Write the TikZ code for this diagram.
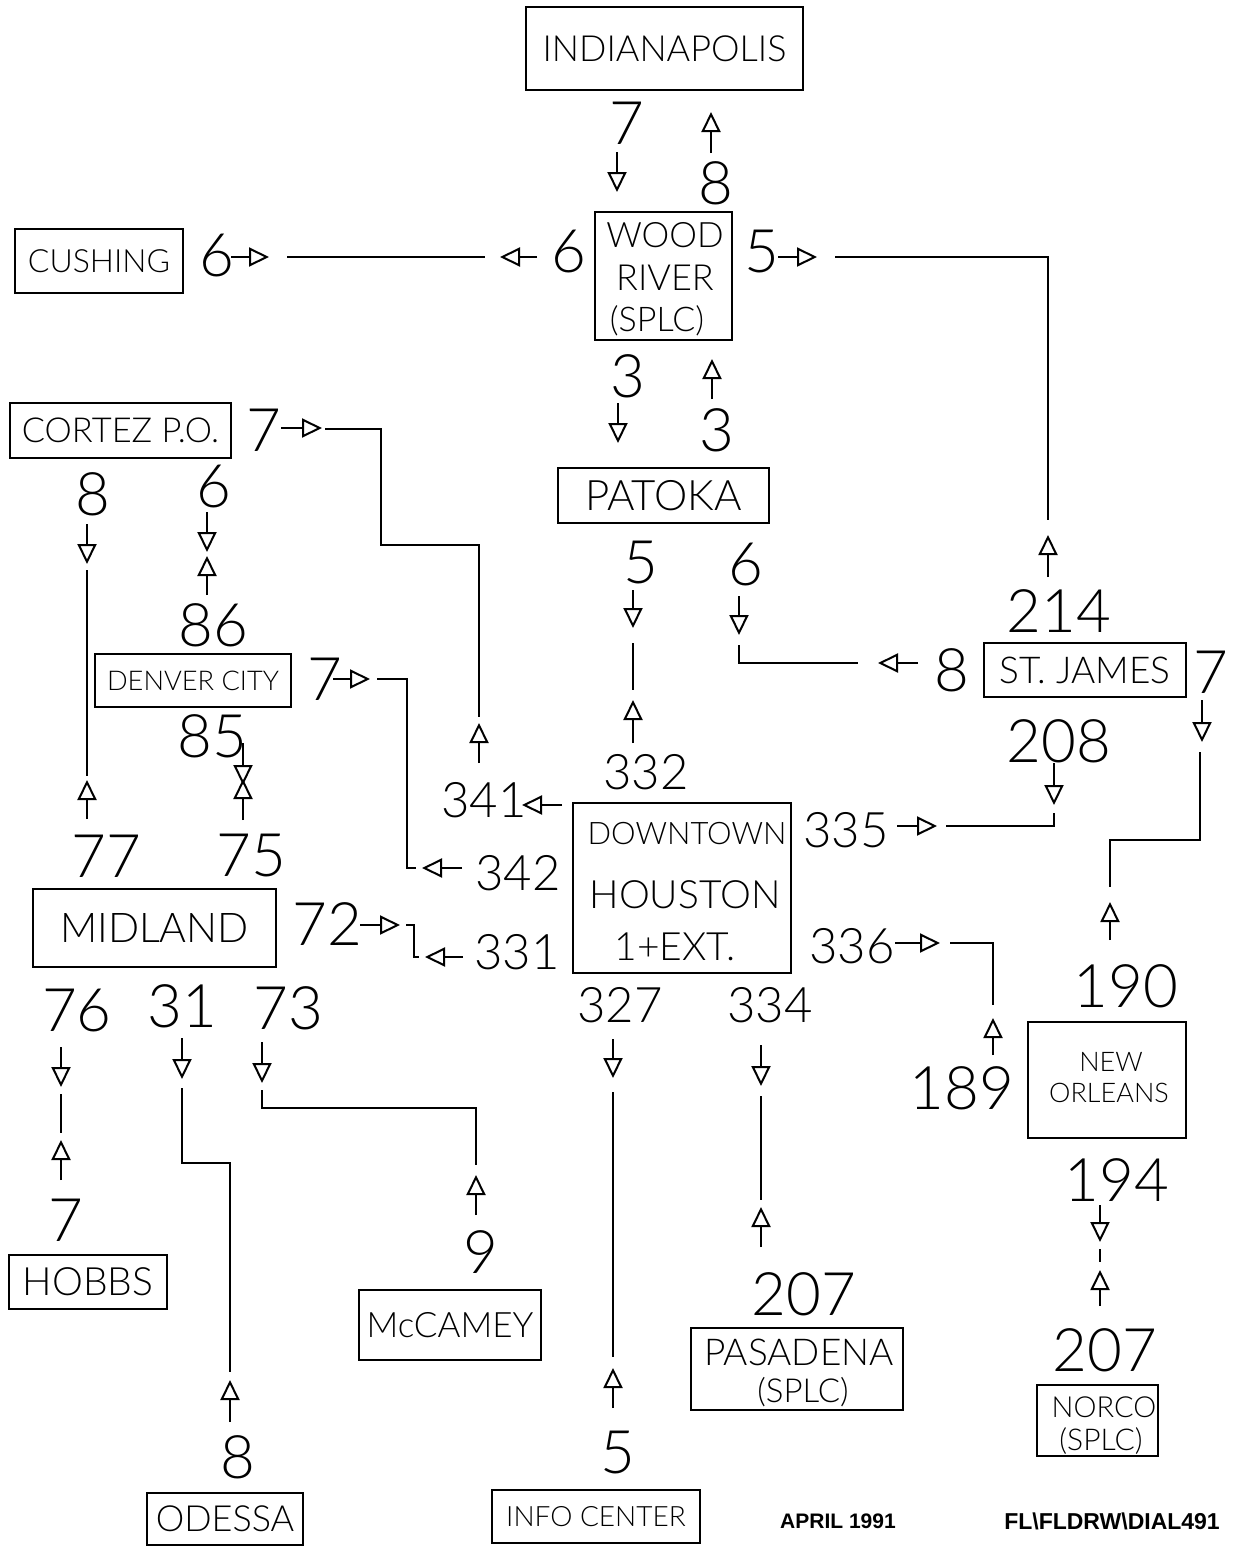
\documentclass[tikz,border=0pt]{standalone}
\usepackage{fontspec}
\setmainfont{Liberation Sans}
\newfontfamily\plotfont{Lato Light}
\usetikzlibrary{arrows.meta}

\tikzset{
  site/.style={draw, line width=1pt, inner sep=0pt},
  lbl/.style={inner sep=0pt},
  numbig/.style={inner sep=0pt, font=\plotfont\fontsize{30}{30}\selectfont},
  numsmall/.style={inner sep=0pt, font=\plotfont\fontsize{24.5}{25}\selectfont},
  flow/.style={line width=1pt, -{Triangle[open, length=10pt, width=9.5pt]}},
  wire/.style={line width=1pt},
}

\begin{document}
\begin{tikzpicture}[x=0.5pt, y=-0.5pt]

   \useasboundingbox (0,0) rectangle (1237,1547);

   % stations
   \node[site, minimum width=138.5pt, minimum height=41.5pt, font=\plotfont\fontsize{18}{18}\selectfont] (indy) at (664.5,48.5) {INDIANAPOLIS};
   \node[site, minimum width=84pt, minimum height=32pt, font=\plotfont\fontsize{16}{16}\selectfont] (cush) at (99,261) {CUSHING};
   \node[site, minimum width=110.5pt, minimum height=27.5pt, font=\plotfont\fontsize{17.2}{17}\selectfont] (cortez) at (120.5,430.5) {CORTEZ P.O.};
   \node[site, minimum width=105.5pt, minimum height=27.5pt, font=\plotfont\fontsize{21}{21}\selectfont] (patoka) at (663.5,495.5) {PATOKA};
   \node[site, minimum width=98pt, minimum height=26.5pt, font=\plotfont\fontsize{13.6}{14}\selectfont] (denver) at (193,680.5) {DENVER CITY};
   \node[site, minimum width=121.5pt, minimum height=39pt, font=\plotfont\fontsize{20.5}{21}\selectfont] (midland) at (154.5,928) {MIDLAND};
   \node[site, minimum width=101pt, minimum height=27pt, font=\plotfont\fontsize{18.5}{18}\selectfont] (stjames) at (1085,670) {ST. JAMES};
   \node[site, minimum width=91pt, minimum height=35pt, font=\plotfont\fontsize{17.5}{18}\selectfont] (mccamey) at (450,1325) {McCAMEY};
   \node[site, minimum width=79pt, minimum height=27pt, font=\plotfont\fontsize{19.5}{19}\selectfont] (hobbs) at (88,1282) {HOBBS};
   \node[site, minimum width=78pt, minimum height=26pt, font=\plotfont\fontsize{18}{18}\selectfont] (odessa) at (225,1519) {ODESSA};
   \node[site, minimum width=104pt, minimum height=26.5pt, font=\plotfont\fontsize{14}{14}\selectfont] (info) at (596,1516.5) {INFO CENTER};

   \node[site, minimum width=68.5pt, minimum height=64pt] (wood) at (663.5,276) {};
   \node[lbl, font=\plotfont\fontsize{17.5}{18}\selectfont] (wood-t1) at (665,235) {WOOD};
   \node[lbl, font=\plotfont\fontsize{18}{18}\selectfont] (wood-t2) at (665,278) {RIVER};
   \node[lbl, font=\plotfont\fontsize{17}{17}\selectfont] (wood-t3) at (657,321) {(SPLC)};

   \node[site, minimum width=109pt, minimum height=85pt] (houston) at (682,888) {};
   \node[lbl, font=\plotfont\fontsize{15.5}{16}\selectfont] (hou-t1) at (687,834) {DOWNTOWN};
   \node[lbl, font=\plotfont\fontsize{19.5}{20}\selectfont] (hou-t2) at (685,895) {HOUSTON};
   \node[lbl, font=\plotfont\fontsize{19.5}{20}\selectfont] (hou-t3) at (675,947) {1+EXT.};

   \node[site, minimum width=79pt, minimum height=58pt] (neworl) at (1107,1080) {};
   \node[lbl, font=\plotfont\fontsize{13.5}{14}\selectfont] (no-t1) at (1111,1062) {NEW};
   \node[lbl, font=\plotfont\fontsize{13.5}{14}\selectfont] (no-t2) at (1109,1093) {ORLEANS};

   \node[site, minimum width=60.5pt, minimum height=35.5pt] (norco) at (1097.5,1420.5) {};
   \node[lbl, font=\plotfont\fontsize{14.5}{15}\selectfont] (nor-t1) at (1104,1407) {NORCO};
   \node[lbl, font=\plotfont\fontsize{15}{15}\selectfont] (nor-t2) at (1101,1441) {(SPLC)};

   \node[site, minimum width=106pt, minimum height=41pt] (pasadena) at (797,1369) {};
   \node[lbl, font=\plotfont\fontsize{18.5}{19}\selectfont] (pas-t1) at (799,1352) {PASADENA};
   \node[lbl, font=\plotfont\fontsize{16.5}{17}\selectfont] (pas-t2) at (803,1392) {(SPLC)};

   % line numbers
   \node[numbig] (indy-7) at (627,123) {7};
   \node[numbig] (indy-8) at (716,183) {8};
   \node[numbig] (cush-6) at (217,256) {6};
   \node[numbig] (wood-6) at (569,252) {6};
   \node[numbig] (wood-5) at (762,252) {5};
   \node[numbig] (wood-3) at (628,376) {3};
   \node[numbig] (pat-3) at (717,430) {3};
   \node[numbig] (pat-5) at (641,563) {5};
   \node[numbig] (pat-6) at (746,565) {6};
   \node[numbig] (sj-214) at (1059,611) {214};
   \node[numbig] (sj-8) at (952,670) {8};
   \node[numbig] (sj-208) at (1059,741) {208};
   \node[numbig] (sj-7) at (1211,672) {7};
   \node[numbig] (no-190) at (1126,986) {190};
   \node[numbig] (no-189) at (962,1088) {189};
   \node[numbig] (no-194) at (1117,1180) {194};
   \node[numbig] (nor-207) at (1105,1350) {207};
   \node[numbig] (pas-207) at (804,1294) {207};
   \node[numbig] (info-5) at (618,1452) {5};
   \node[numbig] (cz-7) at (264,430) {7};
   \node[numbig] (dc-7) at (325,679) {7};
   \node[numbig] (mid-72) at (327,924) {72};
   \node[numbig] (cz-8) at (93,494) {8};
   \node[numbig] (cz-6) at (214,487) {6};
   \node[numbig] (dc-86) at (213,625) {86};
   \node[numbig] (dc-85) at (212,736) {85};
   \node[numbig] (mid-77) at (106,856) {77};
   \node[numbig] (mid-75) at (251,856) {75};
   \node[numbig] (mid-76) at (77,1011) {76};
   \node[numbig] (mid-31) at (182,1006) {31};
   \node[numbig] (mid-73) at (288,1008) {73};
   \node[numbig] (hob-7) at (66,1220) {7};
   \node[numbig] (mcc-9) at (481,1252) {9};
   \node[numbig] (ode-8) at (238,1457) {8};

   \node[numsmall] (hou-332) at (646,772) {332};
   \node[numsmall] (hou-335) at (846,830) {335};
   \node[numsmall] (hou-336) at (852,946) {336};
   \node[numsmall] (hou-327) at (620,1005) {327};
   \node[numsmall] (hou-334) at (770,1005) {334};
   \node[numsmall] (hou-341) at (484,800) {341};
   \node[numsmall] (hou-342) at (518,873) {342};
   \node[numsmall] (hou-331) at (517,952) {331};

   % Indianapolis - Wood River
   \coordinate (indy-7a) at (617,152); \coordinate (indy-7b) at (617,192);
   \coordinate (indy-8a) at (711,153); \coordinate (indy-8b) at (711,112);
   \draw[flow] (indy-7a) -- (indy-7b);
   \draw[flow] (indy-8a) -- (indy-8b);

   % Cushing - Wood River
   \coordinate (cush-6a) at (231,257); \coordinate (cush-6b) at (269,257);
   \coordinate (wood-6a) at (537,257); \coordinate (wood-6b) at (500,257);
   \coordinate (cw-a) at (287,257); \coordinate (cw-b) at (485,257);
   \draw[flow] (cush-6a) -- (cush-6b);
   \draw[flow] (wood-6a) -- (wood-6b);
   \draw[wire] (cw-a) -- (cw-b);

   % Wood River - St. James
   \coordinate (wood-5a) at (778,257); \coordinate (wood-5b) at (817,257);
   \coordinate (ws-a) at (835,257); \coordinate (ws-b) at (1048,257); \coordinate (ws-c) at (1048,520);
   \coordinate (sj-214a) at (1048,577); \coordinate (sj-214b) at (1048,535);
   \draw[flow] (wood-5a) -- (wood-5b);
   \draw[wire] (ws-a) -- (ws-b) -- (ws-c);
   \draw[flow] (sj-214a) -- (sj-214b);

   % Wood River - Patoka
   \coordinate (wood-3a) at (618,403); \coordinate (wood-3b) at (618,443);
   \coordinate (pat-3a) at (712,399); \coordinate (pat-3b) at (712,359);
   \draw[flow] (wood-3a) -- (wood-3b);
   \draw[flow] (pat-3a) -- (pat-3b);

   % Patoka - Houston
   \coordinate (pat-5a) at (633,590); \coordinate (pat-5b) at (633,628);
   \coordinate (ph-a) at (633,643); \coordinate (ph-b) at (633,690);
   \coordinate (hou-332a) at (633,743); \coordinate (hou-332b) at (633,700);
   \draw[flow] (pat-5a) -- (pat-5b);
   \draw[wire] (ph-a) -- (ph-b);
   \draw[flow] (hou-332a) -- (hou-332b);

   % Patoka - St. James
   \coordinate (pat-6a) at (739,596); \coordinate (pat-6b) at (739,635);
   \coordinate (ps-a) at (739,645); \coordinate (ps-b) at (739,663); \coordinate (ps-c) at (858,663);
   \coordinate (sj-8a) at (918,663); \coordinate (sj-8b) at (878,663);
   \draw[flow] (pat-6a) -- (pat-6b);
   \draw[wire] (ps-a) -- (ps-b) -- (ps-c);
   \draw[flow] (sj-8a) -- (sj-8b);

   % Houston - St. James
   \coordinate (hou-335a) at (897,826); \coordinate (hou-335b) at (937,826);
   \coordinate (hs-a) at (946,826); \coordinate (hs-b) at (1054,826); \coordinate (hs-c) at (1054,813);
   \coordinate (sj-208a) at (1054,763); \coordinate (sj-208b) at (1054,805);
   \draw[flow] (hou-335a) -- (hou-335b);
   \draw[wire] (hs-a) -- (hs-b) -- (hs-c);
   \draw[flow] (sj-208a) -- (sj-208b);

   % St. James - New Orleans
   \coordinate (sj-7a) at (1202,700); \coordinate (sj-7b) at (1202,742);
   \coordinate (sn-a) at (1200,752); \coordinate (sn-b) at (1200,840);
   \coordinate (sn-c) at (1110,840); \coordinate (sn-d) at (1110,887);
   \coordinate (no-190a) at (1110,940); \coordinate (no-190b) at (1110,902);
   \draw[flow] (sj-7a) -- (sj-7b);
   \draw[wire] (sn-a) -- (sn-b) -- (sn-c) -- (sn-d);
   \draw[flow] (no-190a) -- (no-190b);

   % Houston - New Orleans
   \coordinate (hou-336a) at (895,943); \coordinate (hou-336b) at (940,943);
   \coordinate (hn-a) at (950,943); \coordinate (hn-b) at (993,943); \coordinate (hn-c) at (993,1005);
   \coordinate (no-189a) at (993,1055); \coordinate (no-189b) at (993,1018);
   \draw[flow] (hou-336a) -- (hou-336b);
   \draw[wire] (hn-a) -- (hn-b) -- (hn-c);
   \draw[flow] (no-189a) -- (no-189b);

   % New Orleans - Norco
   \coordinate (no-194a) at (1100,1205); \coordinate (no-194b) at (1100,1242);
   \coordinate (nn-a) at (1100,1249); \coordinate (nn-b) at (1100,1262);
   \coordinate (nor-207a) at (1100,1306); \coordinate (nor-207b) at (1100,1270);
   \draw[flow] (no-194a) -- (no-194b);
   \draw[wire] (nn-a) -- (nn-b);
   \draw[flow] (nor-207a) -- (nor-207b);

   % Houston - Pasadena
   \coordinate (hou-334a) at (761,1045); \coordinate (hou-334b) at (761,1086);
   \coordinate (hp-a) at (761,1096); \coordinate (hp-b) at (761,1200);
   \coordinate (pas-207a) at (761,1247); \coordinate (pas-207b) at (761,1207);
   \draw[flow] (hou-334a) -- (hou-334b);
   \draw[wire] (hp-a) -- (hp-b);
   \draw[flow] (pas-207a) -- (pas-207b);

   % Houston - Info Center
   \coordinate (hou-327a) at (613,1039); \coordinate (hou-327b) at (613,1078);
   \coordinate (hi-a) at (613,1092); \coordinate (hi-b) at (613,1357);
   \coordinate (info-5a) at (613,1408); \coordinate (info-5b) at (613,1368);
   \draw[flow] (hou-327a) -- (hou-327b);
   \draw[wire] (hi-a) -- (hi-b);
   \draw[flow] (info-5a) -- (info-5b);

   % Houston - Cortez
   \coordinate (hou-341a) at (562,805); \coordinate (hou-341b) at (522,805);
   \coordinate (hou-341c) at (479,763); \coordinate (hou-341d) at (479,723);
   \coordinate (cz-7a) at (281,428); \coordinate (cz-7b) at (322,428);
   \coordinate (ch-a) at (325,429); \coordinate (ch-b) at (381,429); \coordinate (ch-c) at (381,545);
   \coordinate (ch-d) at (479,545); \coordinate (ch-e) at (479,717);
   \draw[flow] (hou-341a) -- (hou-341b);
   \draw[flow] (hou-341c) -- (hou-341d);
   \draw[flow] (cz-7a) -- (cz-7b);
   \draw[wire] (ch-a) -- (ch-b) -- (ch-c) -- (ch-d) -- (ch-e);

   % Houston - Denver City
   \coordinate (dc-7a) at (333,679); \coordinate (dc-7b) at (370,679);
   \coordinate (dh-a) at (377,679); \coordinate (dh-b) at (407,679);
   \coordinate (dh-c) at (407,868); \coordinate (dh-d) at (416,868);
   \coordinate (hou-342a) at (462,868); \coordinate (hou-342b) at (422,868);
   \draw[flow] (dc-7a) -- (dc-7b);
   \draw[wire] (dh-a) -- (dh-b) -- (dh-c) -- (dh-d);
   \draw[flow] (hou-342a) -- (hou-342b);

   % Houston - Midland
   \coordinate (mid-72a) at (360,925); \coordinate (mid-72b) at (400,925);
   \coordinate (mh-a) at (406,925); \coordinate (mh-b) at (414,925);
   \coordinate (mh-c) at (414,957); \coordinate (mh-d) at (419,957);
   \coordinate (hou-331a) at (463,957); \coordinate (hou-331b) at (425,957);
   \draw[flow] (mid-72a) -- (mid-72b);
   \draw[wire] (mh-a) -- (mh-b) -- (mh-c) -- (mh-d);
   \draw[flow] (hou-331a) -- (hou-331b);

   % Cortez - Midland
   \coordinate (cz-8a) at (87,524); \coordinate (cz-8b) at (87,564);
   \coordinate (cm-a) at (87,570); \coordinate (cm-b) at (87,776);
   \coordinate (mid-77a) at (87,819); \coordinate (mid-77b) at (87,780);
   \draw[flow] (cz-8a) -- (cz-8b);
   \draw[wire] (cm-a) -- (cm-b);
   \draw[flow] (mid-77a) -- (mid-77b);

   % Cortez - Denver City
   \coordinate (cz-6a) at (207,512); \coordinate (cz-6b) at (207,552);
   \coordinate (dc-86a) at (207,595); \coordinate (dc-86b) at (207,556);
   \draw[flow] (cz-6a) -- (cz-6b);
   \draw[flow] (dc-86a) -- (dc-86b);

   % Denver City - Midland
   \coordinate (dc-85a) at (243,743); \coordinate (dc-85b) at (243,785);
   \coordinate (mid-75a) at (243,820); \coordinate (mid-75b) at (243,779);
   \draw[flow] (dc-85a) -- (dc-85b);
   \draw[flow] (mid-75a) -- (mid-75b);

   % Midland - Hobbs
   \coordinate (mid-76a) at (61,1047); \coordinate (mid-76b) at (61,1087);
   \coordinate (mb-a) at (61,1094); \coordinate (mb-b) at (61,1133);
   \coordinate (hob-7a) at (61,1180); \coordinate (hob-7b) at (61,1140);
   \draw[flow] (mid-76a) -- (mid-76b);
   \draw[wire] (mb-a) -- (mb-b);
   \draw[flow] (hob-7a) -- (hob-7b);

   % Midland - Odessa
   \coordinate (mid-31a) at (182,1038); \coordinate (mid-31b) at (182,1079);
   \coordinate (mo-a) at (182,1088); \coordinate (mo-b) at (182,1163);
   \coordinate (mo-c) at (230,1163); \coordinate (mo-d) at (230,1372);
   \coordinate (ode-8a) at (230,1422); \coordinate (ode-8b) at (230,1380);
   \draw[flow] (mid-31a) -- (mid-31b);
   \draw[wire] (mo-a) -- (mo-b) -- (mo-c) -- (mo-d);
   \draw[flow] (ode-8a) -- (ode-8b);

   % Midland - McCamey
   \coordinate (mid-73a) at (262,1042); \coordinate (mid-73b) at (262,1083);
   \coordinate (mm-a) at (262,1090); \coordinate (mm-b) at (262,1108);
   \coordinate (mm-c) at (476,1108); \coordinate (mm-d) at (476,1165);
   \coordinate (mcc-9a) at (476,1215); \coordinate (mcc-9b) at (476,1175);
   \draw[flow] (mid-73a) -- (mid-73b);
   \draw[wire] (mm-a) -- (mm-b) -- (mm-c) -- (mm-d);
   \draw[flow] (mcc-9a) -- (mcc-9b);

   % footer
   \node[lbl, font=\bfseries\fontsize{10.5}{11}\selectfont] (date) at (838,1521) {APRIL 1991};
   \node[lbl, font=\bfseries\fontsize{11.5}{12}\selectfont] (file) at (1112,1521) {FL\textbackslash FLDRW\textbackslash DIAL491};

\end{tikzpicture}
\end{document}
